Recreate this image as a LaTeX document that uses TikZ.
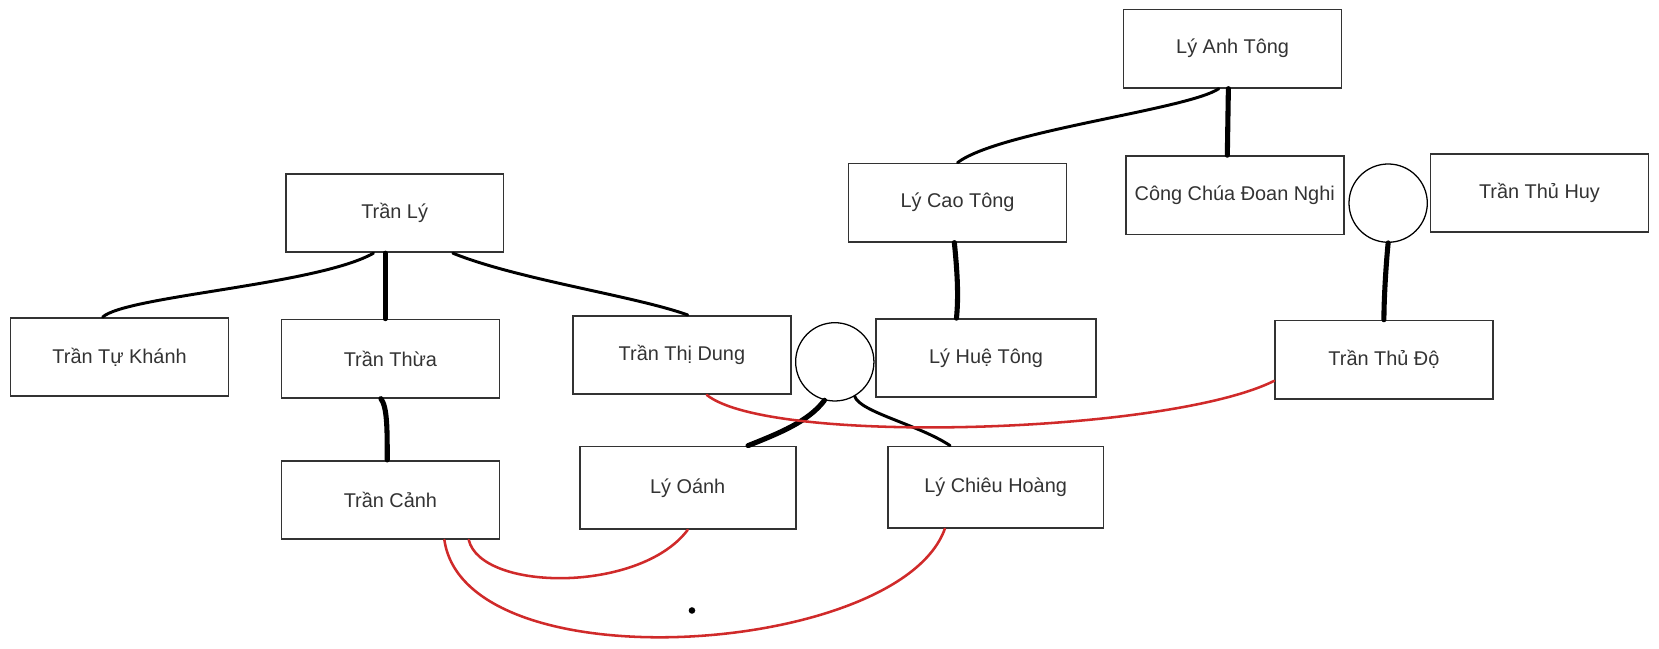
\documentclass[tikz,border=0pt]{standalone}
\usepackage{fontspec}
\setmainfont{Liberation Sans}
\usepackage{tikz}
\definecolor{boxgray}{RGB}{51,51,51}
\definecolor{linkred}{RGB}{208,42,42}

\begin{document}
\begin{tikzpicture}[x=0.5pt,y=-0.5pt,
    person/.style={draw=boxgray,line width=0.8pt,minimum width=103pt,minimum height=37pt,
      inner sep=0pt,text=boxgray,font=\fontsize{9.4}{11}\selectfont},
    union/.style={draw,circle,line width=0.6pt,minimum size=37pt,inner sep=0pt},
    heavy/.style={line width=2.4pt,line cap=round},
    light/.style={line width=1.4pt,line cap=round},
    marriage/.style={linkred,line width=1.2pt,line cap=round}]

    \useasboundingbox (0,0) rectangle (1568,613);

    \node[person] (ly-anh-tong) at (1165,46) {Lý Anh Tông};
    \node[person] (ly-cao-tong) at (905,191.5) {Lý Cao Tông};
    \node[person] (cong-chua) at (1167,184.5) {Công Chúa Đoan Nghi};
    \node[union] (union-huy) at (1312,192) {};
    \node[person] (tran-thu-huy) at (1455,182.5) {Trần Thủ Huy};

    \node[person] (tran-ly) at (373,201.5) {Trần Lý};
    \node[person] (tran-tu-khanh) at (113,337.5) {Trần Tự Khánh};
    \node[person] (tran-thua) at (369,339) {Trần Thừa};
    \node[person] (tran-thi-dung) at (644.5,335.5) {Trần Thị Dung};
    \node[union] (union-dung) at (789,342) {};
    \node[person,minimum width=104pt] (ly-hue-tong) at (932,338.5) {Lý Huệ Tông};
    \node[person] (tran-thu-do) at (1308,340) {Trần Thủ Độ};

    \node[person] (tran-canh) at (369,472.5) {Trần Cảnh};
    \node[person,minimum width=102pt,minimum height=39pt] (ly-oanh) at (650,461) {Lý Oánh};
    \node[person,minimum width=102pt,minimum height=38.5pt] (ly-chieu-hoang) at (941,460.5) {Lý Chiêu Hoàng};

    \node[circle,fill,inner sep=1.1pt] (dot) at (654,577) {};

    \draw[light] ([xshift=-10pt]tran-ly.south)..controls +(-53,30) and +(22,-20)..([xshift=-8pt]tran-tu-khanh.north);
    \draw[heavy] ([xshift=-4.5pt]tran-ly.south) -- ([xshift=-2.5pt]tran-thua.north);
    \draw[light] ([xshift=27.5pt]tran-ly.south)..controls +(62,25) and +(-50,-18)..([xshift=2.75pt]tran-thi-dung.north);
    \draw[heavy] ([xshift=-4.5pt]tran-thua.south)..controls +(6,8) and +(0,-30)..([xshift=-1.5pt]tran-canh.north);

    \draw[light] ([xshift=-6.5pt]ly-anh-tong.south)..controls +(-30,20) and +(40,-30)..(ly-cao-tong.north);
    \draw[heavy] ([xshift=-2pt]ly-anh-tong.south) -- ([xshift=-3.5pt]cong-chua.north);
    \draw[heavy] ([xshift=-1.5pt]ly-cao-tong.south)..controls +(3,30) and +(2,-20)..([xshift=-14pt]ly-hue-tong.north);
    \draw[heavy] (union-huy.south)..controls +(-2,20) and +(0,-20)..(tran-thu-do.north);

    \draw[heavy] (union-dung.-105)..controls +(-15,20) and +(30,-12)..([xshift=28.5pt]ly-oanh.north);
    \draw[light] (union-dung.-60)..controls +(5,15) and +(-30,-20)..([xshift=-21.5pt]ly-chieu-hoang.north);

    \draw[marriage] ([xshift=11.75pt]tran-thi-dung.south)..controls +(60,48) and +(-100,50)..([yshift=-10pt]tran-thu-do.west);
    \draw[marriage] ([xshift=37pt]tran-canh.south)..controls +(12,49) and +(-45,60)..(ly-oanh.south);
    \draw[marriage] ([xshift=25.5pt]tran-canh.south)..controls +(20,138) and +(-43,120)..([xshift=-24pt]ly-chieu-hoang.south);

\end{tikzpicture}
\end{document}
